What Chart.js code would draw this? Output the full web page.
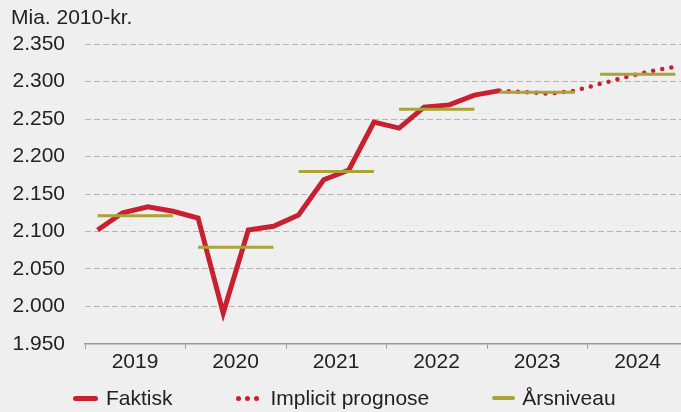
<!DOCTYPE html>
<html>
<head>
<meta charset="utf-8">
<script src="https://cdn.jsdelivr.net/npm/chart.js@4/dist/chart.umd.min.js"></script>
<style>
html, body { margin: 0; padding: 0; overflow: hidden; background: #efefef; }
#wrap { position: relative; width: 690px; height: 412px; }
#legend { position: absolute; left: 73px; top: 385px; height: 26px; display: flex; align-items: center;
  font-family: "Liberation Sans", Arial, sans-serif; font-size: 21px; color: #222; white-space: nowrap; }
.item { display: flex; align-items: center; margin-right: 63px; }
.line { display: inline-block; width: 25px; height: 5px; border-radius: 3px; margin-right: 8px; }
.dot { display: inline-block; width: 5px; height: 5px; border-radius: 50%; background: #c8202f; margin-right: 4px; }
</style>
</head>
<body>
<div id="wrap">
  <canvas id="myChart"></canvas>
  <div id="legend">
    <div class="item"><span class="line" style="background:#c8202f"></span>Faktisk</div>
    <div class="item"><span class="dot"></span><span class="dot"></span><span class="dot" style="margin-right:12px"></span>Implicit prognose</div>
    <div class="item"><span class="line" style="background:#a9a339;height:4px;width:23px;margin-right:7px"></span>Årsniveau</div>
  </div>
</div>
<script>
// år på x-aksen
var years = ["2019", "2020", "2021", "2022", "2023", "2024"];
// kvartalstal, mia. 2010-kr. (2019K1 - 2023K1)
var faktisk = [2102, 2125, 2133, 2127, 2118, 1991, 2102, 2107, 2122, 2169, 2182, 2246, 2238, 2266, 2269, 2282, 2288];
// implicit prognose (2023K1 - 2024K4)
var prognose = [2288, 2286, 2284, 2288, 2297, 2306, 2314, 2320];
// årsniveau pr. år
var aarsniveau = [2121, 2079, 2180, 2263, 2286, 2310];
// y-akse
var yMin = 1950;
var yMax = 2350;
var yStep = 50;

var red = "#c8202f";
var olive = "#a9a339";

// kvartal -> position på den lineære x-akse (år + midten af kvartalet)
function qx(i) {
    return Math.floor(i / 4) + ((i % 4) + 0.5) / 4;
}

var faktiskPts = faktisk.map(function (v, i) { return { x: qx(i), y: v }; });
var prognosePts = prognose.map(function (v, i) { return { x: qx(i + 16), y: v }; });
var niveauPts = [];
aarsniveau.forEach(function (v, i) {
    niveauPts.push({ x: qx(i * 4), y: v });
    niveauPts.push({ x: qx(i * 4 + 3), y: v });
    niveauPts.push({ x: i + 0.95, y: null });
});

function fmt(v) {
    var s = String(Math.round(v));
    return s.slice(0, s.length - 3) + "." + s.slice(-3);
}

var ctx = document.getElementById("myChart");
var myChart = new Chart(ctx, {
    type: "line",
    data: {
        datasets: [
            {
                label: "Årsniveau",
                data: niveauPts,
                borderColor: olive,
                borderWidth: 3,
                pointRadius: 0,
                spanGaps: false,
            },
            {
                label: "Faktisk",
                data: faktiskPts,
                borderColor: red,
                borderWidth: 5,
                pointRadius: 0,
                tension: 0,
            },
            {
                label: "Implicit prognose",
                data: prognosePts,
                borderColor: red,
                borderWidth: 4.5,
                borderDash: [0, 9.2],
                borderCapStyle: "round",
                pointRadius: 0,
            },
        ],
    },
    options: {
        responsive: true,
        maintainAspectRatio: false,
        animation: false,
        layout: { padding: { left: 11, right: 2, top: 0, bottom: 36 } },
        plugins: {
            legend: { display: false },
            tooltip: { enabled: false },
            title: {
                display: true,
                text: "Mia. 2010-kr.",
                align: "start",
                color: "#222",
                font: { family: "'Liberation Sans', Arial, sans-serif", size: 21, weight: "normal" },
                padding: { top: 6, bottom: 13 },
            },
        },
        scales: {
            x: {
                type: "linear",
                min: 0,
                max: years.length,
                afterBuildTicks: function (axis) {
                    axis.ticks = [];
                    for (var i = 0; i <= years.length; i++) axis.ticks.push({ value: i });
                },
                ticks: {
                    autoSkip: false,
                    maxRotation: 0,
                    labelOffset: 50,
                    padding: 1,
                    color: "#222",
                    font: { family: "'Liberation Sans', Arial, sans-serif", size: 21 },
                    callback: function (v) { return years[v] || ""; },
                },
                grid: {
                    drawOnChartArea: false,
                    drawTicks: true,
                    tickLength: 5,
                    color: "#9a9a9a",
                },
                border: { color: "#9a9a9a", width: 1.5 },
            },
            y: {
                min: yMin,
                max: yMax,
                afterFit: function (axis) { axis.width = 74; },
                ticks: {
                    stepSize: yStep,
                    padding: 20,
                    color: "#222",
                    font: { family: "'Liberation Sans', Arial, sans-serif", size: 21 },
                    callback: function (v) { return fmt(v); },
                },
                grid: {
                    drawTicks: false,
                    color: function (c) { return c.tick.value === yMin ? "rgba(0,0,0,0)" : "#b4b4b4"; },
                },
                border: { display: false, dash: [6, 3] },
            },
        },
    },
});
</script>
</body>
</html>
